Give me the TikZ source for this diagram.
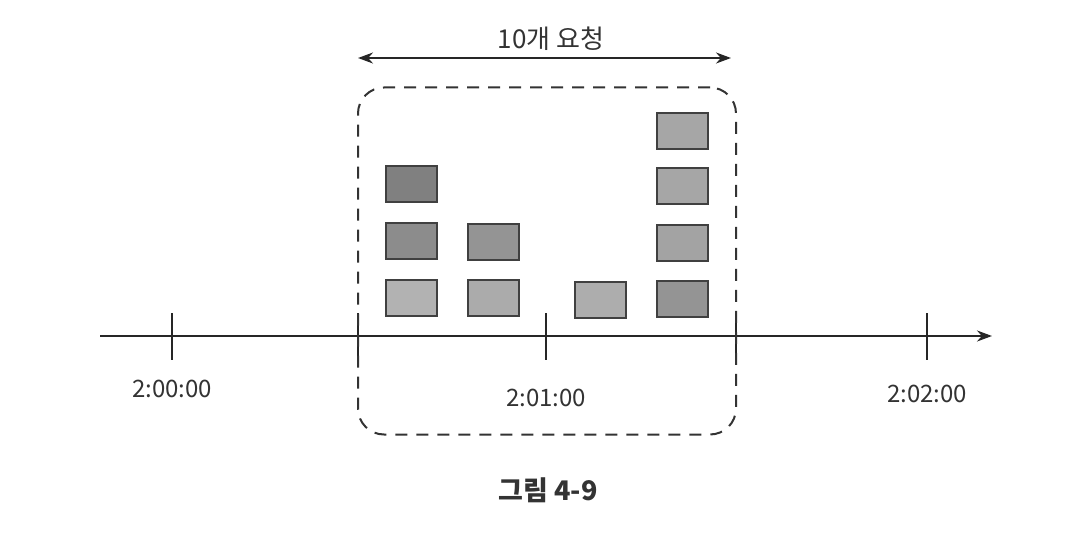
\documentclass[tikz,border=0pt]{standalone}
\usepackage{fontspec}
\newfontfamily\kr{Noto Sans CJK KR}
\usetikzlibrary{arrows.meta}

\begin{document}
\begin{tikzpicture}[x=1pt,y=-1pt,
	req node/.style={rectangle,draw=black!75,line width=2pt,minimum width=51pt,minimum height=36pt,inner sep=0pt},
	window node/.style={rectangle,draw=black!80,line width=2pt,dash pattern=on 12pt off 9pt,rounded corners=26pt,minimum width=378pt,minimum height=347pt,inner sep=0pt},
	time label/.style={font=\kr\fontsize{24}{28}\selectfont,text=black!80},
	tick line/.style={draw=black!85,line width=2pt}
]
	\useasboundingbox (0,0) rectangle (1072,535);

	\def \ay {336};

	% time axis
	\coordinate (axis start) at (100,\ay);
	\coordinate (axis end) at (992,\ay);
	\draw[tick line,-{Stealth[length=15pt,width=11pt]}] (axis start) -- (axis end);

	\foreach \x/\n in {172/t0, 358/t1, 546/t2, 736/t3, 927/t4} {
		\coordinate (\n) at (\x,\ay);
		\draw[tick line] ([yshift=23pt]\n) -- ([yshift=-24pt]\n);
	}

	\node[time label] (l0) at (172,389) {2:00:00};
	\node[time label] (l2) at (546,398) {2:01:00};
	\node[time label] (l4) at (927,394) {2:02:00};

	% one minute window
	\node[window node] (window) at (547,261) {};

	\coordinate (span l) at (358,58);
	\coordinate (span r) at (731,58);
	\draw[tick line,{Stealth[length=15pt,width=11pt]}-{Stealth[length=15pt,width=11pt]}] (span l) -- (span r);
	\node[time label,font=\kr\fontsize{26}{30}\selectfont] (count) at (551,39) {10개 요청};

	% requests
	\foreach \x/\y/\c [count=\i] in {411/184/50, 411/241/45, 411/298/30,
		493/242/42, 493/298/33,
		600/300/32,
		682/131/35, 682/186/35, 682/243/36, 682/299/42} {
		\node[req node,fill=black!\c] (r\i) at (\x,\y) {};
	}

	\node[font=\kr\bfseries\fontsize{27}{30}\selectfont,text=black!80] (caption) at (548,490) {그림 4-9};
\end{tikzpicture}
\end{document}
